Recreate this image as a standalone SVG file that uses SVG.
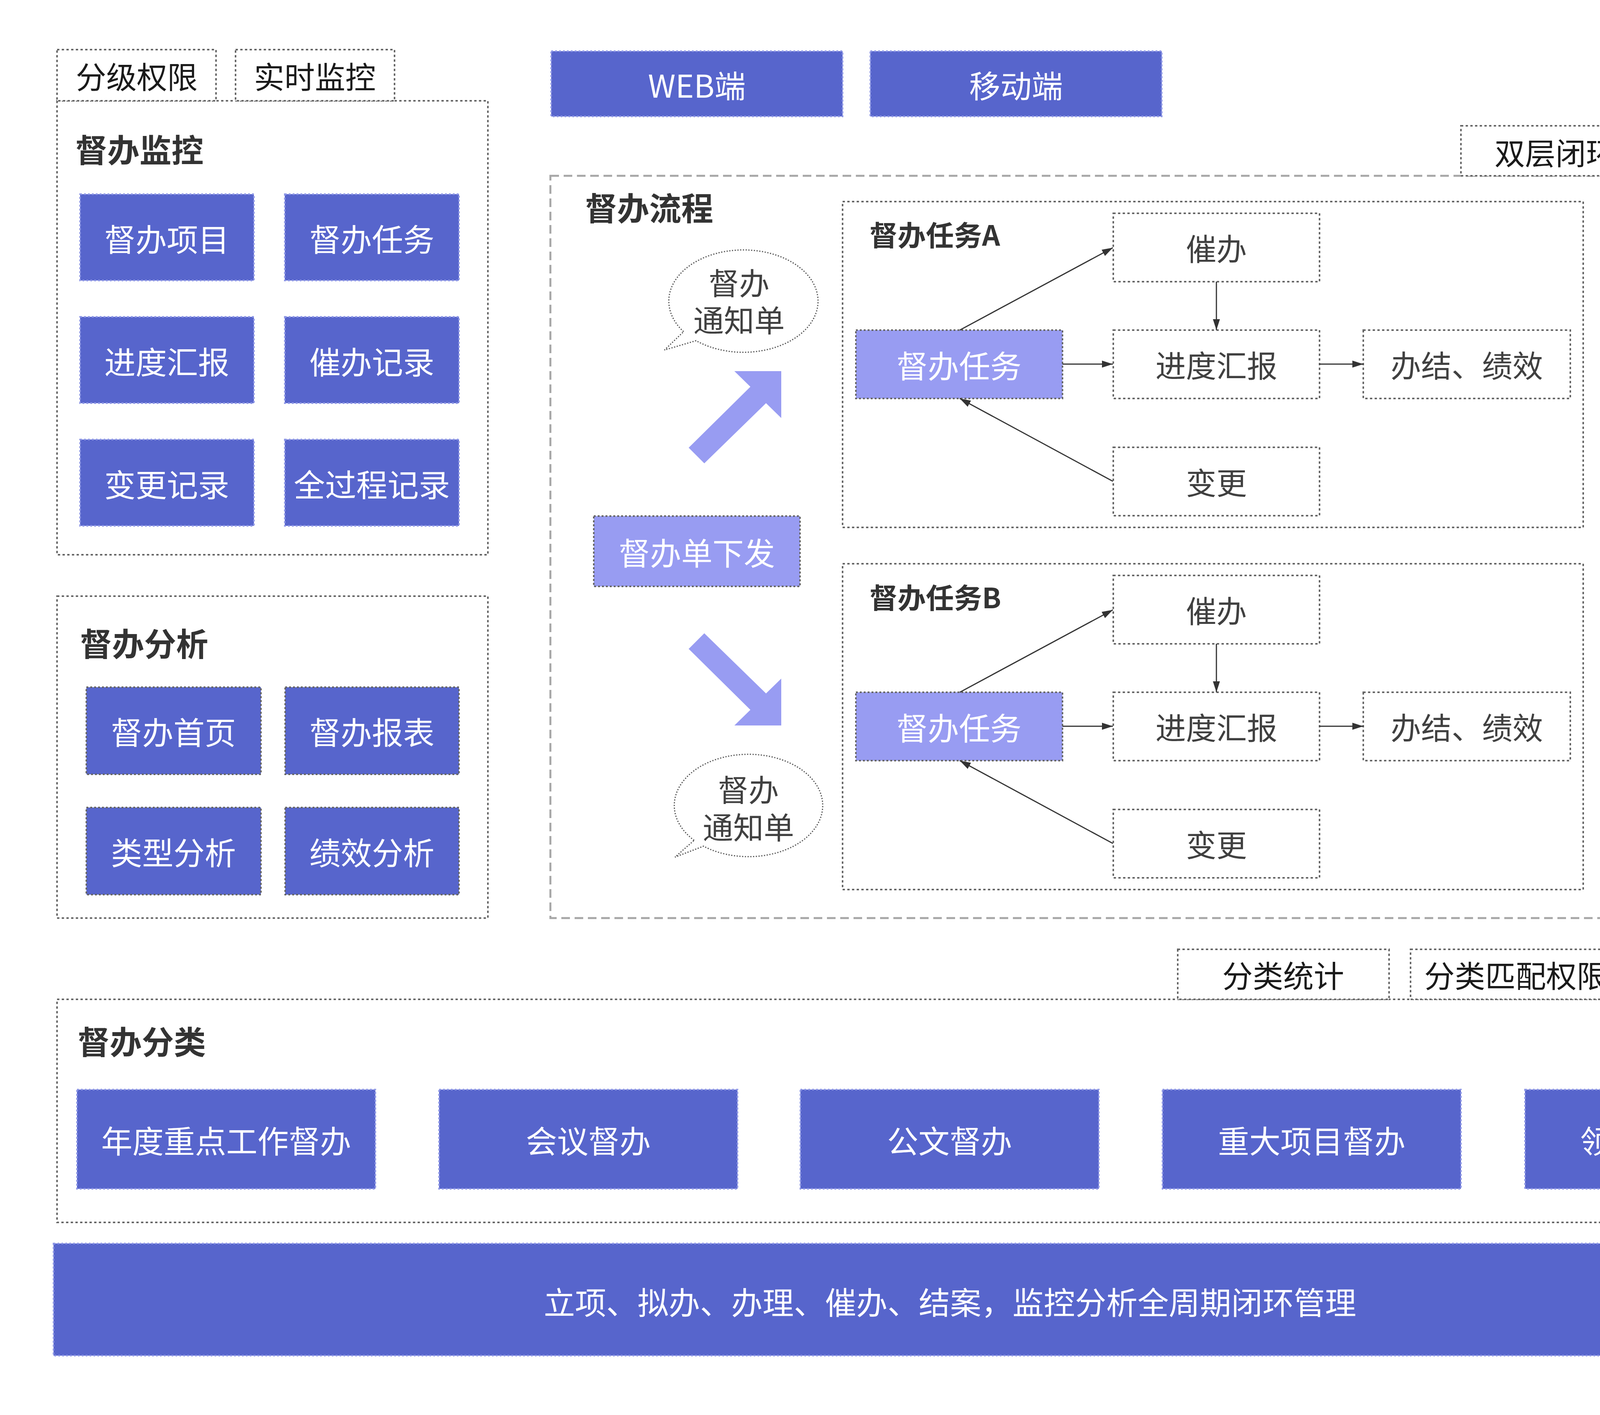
<svg xmlns="http://www.w3.org/2000/svg" width="4873" height="3622" viewBox="0 0 4873 3622">
<style>
.bg{fill:#ffffff}
.dot{fill:#ffffff;stroke:#666666;stroke-width:4;stroke-dasharray:6 6}
.pan{fill:none;stroke:#666666;stroke-width:4;stroke-dasharray:6 6}
.dk{fill:#5765cc;stroke:#8f98e6;stroke-width:4;stroke-dasharray:5 5}
.dkg{fill:#5765cc;stroke:#666666;stroke-width:4;stroke-dasharray:5 5}
.lt{fill:#989cf2;stroke:#666666;stroke-width:4;stroke-dasharray:5 5}
.flow{fill:none;stroke:#a6a6a6;stroke-width:5;stroke-dasharray:22 12}
.bub{fill:#ffffff;stroke:#555555;stroke-width:3;stroke-dasharray:3 4}
.big{fill:#989cf2}
.t{font-family:"Noto Sans CJK SC","Noto Sans",sans-serif;text-anchor:middle;dominant-baseline:central}
.w{fill:#ffffff;font-size:80px}
.k{fill:#1a1a1a;font-size:78px}
.g{fill:#404040;font-size:78px}
.h{font-family:"Noto Sans CJK SC","Noto Sans",sans-serif;font-weight:bold;fill:#333333;dominant-baseline:central}
.conn line{stroke:#333333;stroke-width:3;marker-end:url(#ah)}
</style>
<defs>
<marker id="ah" markerUnits="userSpaceOnUse" markerWidth="30" markerHeight="20" refX="28" refY="9" orient="auto">
<path d="M0,0 L28,9 L0,18 Z" fill="#333333"/>
</marker>
</defs>
<rect class="bg" x="0" y="0" width="4873" height="3622"/>

<!-- 督办监控 -->
<g id="monitor">
<rect class="pan" x="146" y="258" width="1103" height="1162"/>
<rect class="dot" x="146" y="127" width="407" height="131"/>
<text class="t k" x="350" y="193">分级权限</text>
<rect class="dot" x="603" y="127" width="407" height="131"/>
<text class="t k" x="806" y="193">实时监控</text>
<text class="h" x="193" y="379" font-size="82">督办监控</text>
</g>
<g id="m1"><rect class="dk" x="205" y="497" width="445" height="221"/><text class="t w" x="427" y="608">督办项目</text></g>
<g id="m2"><rect class="dk" x="729" y="497" width="446" height="221"/><text class="t w" x="952" y="608">督办任务</text></g>
<g id="m3"><rect class="dk" x="205" y="811" width="445" height="221"/><text class="t w" x="427" y="922">进度汇报</text></g>
<g id="m4"><rect class="dk" x="729" y="811" width="446" height="221"/><text class="t w" x="952" y="922">催办记录</text></g>
<g id="m5"><rect class="dk" x="205" y="1125" width="445" height="221"/><text class="t w" x="427" y="1236">变更记录</text></g>
<g id="m6"><rect class="dk" x="729" y="1125" width="446" height="221"/><text class="t w" x="952" y="1236">全过程记录</text></g>

<!-- 督办分析 -->
<g id="analysis">
<rect class="pan" x="146" y="1526" width="1103" height="824"/>
<text class="h" x="205" y="1643" font-size="82">督办分析</text>
</g>
<g id="a1"><rect class="dkg" x="221" y="1759" width="447" height="223"/><text class="t w" x="444" y="1870">督办首页</text></g>
<g id="a2"><rect class="dkg" x="730" y="1759" width="445" height="223"/><text class="t w" x="952" y="1870">督办报表</text></g>
<g id="a3"><rect class="dkg" x="221" y="2067" width="447" height="223"/><text class="t w" x="444" y="2178">类型分析</text></g>
<g id="a4"><rect class="dkg" x="730" y="2067" width="445" height="223"/><text class="t w" x="952" y="2178">绩效分析</text></g>

<!-- 端 -->
<g id="web"><rect class="dk" x="1411" y="131" width="746" height="167"/><text class="t w" x="1784" y="215">WEB端</text></g>
<g id="mobile"><rect class="dk" x="2228" y="131" width="746" height="167"/><text class="t w" x="2601" y="215">移动端</text></g>

<!-- 督办流程 -->
<g id="flow">
<rect class="flow" x="1409" y="450" width="3325" height="1900"/>
<rect class="dot" x="3740" y="322" width="485" height="128"/>
<text class="t k" x="3982" y="388">双层闭环</text>
<rect class="dot" x="4279" y="322" width="455" height="128"/>
<text class="t k" x="4506" y="388">流程可配置</text>
<text class="h" x="1498" y="528" font-size="82">督办流程</text>
</g>

<g id="bubble1">
<path class="bub" d="M1750,849 A191,131 0 1 1 1782,872 L1701,896 Z"/>
<text class="t g" x="1892" y="721" font-size="76">督办</text>
<text class="t g" x="1892" y="816" font-size="76">通知单</text>
</g>
<g id="bubble2">
<path class="bub" d="M1777,2151 A190,131 0 1 1 1801,2166 L1728,2194 Z"/>
<text class="t g" x="1916" y="2018" font-size="76">督办</text>
<text class="t g" x="1916" y="2114" font-size="76">通知单</text>
</g>

<g id="bigarrows">
<polygon class="big" points="2000,950 2000,1070 1961,1032 1803,1186 1763,1146 1921,990 1880,950"/>
<polygon class="big" points="2000,1857 1880,1857 1921,1817 1763,1661 1803,1621 1961,1775 2000,1737"/>
<polygon class="big" points="4420,1167 4300,1167 4341,1127 4183,971 4223,931 4381,1085 4420,1047"/>
<polygon class="big" points="4420,1638 4420,1758 4381,1720 4223,1874 4183,1834 4341,1678 4300,1638"/>
</g>

<g id="issue"><rect class="lt" x="1520" y="1321" width="528" height="180"/><text class="t w" x="1784" y="1411">督办单下发</text></g>
<g id="close"><rect class="lt" x="4112" y="1321" width="531" height="180"/><text class="t w" x="4377" y="1411">督办结案</text></g>

<!-- 任务A -->
<g id="taskA">
<rect class="pan" x="2157" y="516" width="1896" height="834"/>
<text class="h" x="2226" y="597" font-size="72">督办任务A</text>
</g>
<g id="A_task"><rect class="lt" x="2191" y="845" width="529" height="175"/><text class="t w" x="2455" y="932">督办任务</text></g>
<g id="A_urge"><rect class="dot" x="2850" y="546" width="528" height="175"/><text class="t g" x="3114" y="633">催办</text></g>
<g id="A_prog"><rect class="dot" x="2850" y="845" width="528" height="175"/><text class="t g" x="3114" y="932">进度汇报</text></g>
<g id="A_done"><rect class="dot" x="3490" y="845" width="530" height="175"/><text class="t g" x="3755" y="932">办结、绩效</text></g>
<g id="A_chg"><rect class="dot" x="2850" y="1145" width="528" height="175"/><text class="t g" x="3114" y="1232">变更</text></g>

<!-- 任务B -->
<g id="taskB">
<rect class="pan" x="2157" y="1443" width="1896" height="834"/>
<text class="h" x="2226" y="1525" font-size="72">督办任务B</text>
</g>
<g id="B_task"><rect class="lt" x="2191" y="1772" width="529" height="175"/><text class="t w" x="2455" y="1859">督办任务</text></g>
<g id="B_urge"><rect class="dot" x="2850" y="1473" width="528" height="175"/><text class="t g" x="3114" y="1560">催办</text></g>
<g id="B_prog"><rect class="dot" x="2850" y="1772" width="528" height="175"/><text class="t g" x="3114" y="1859">进度汇报</text></g>
<g id="B_done"><rect class="dot" x="3490" y="1772" width="530" height="175"/><text class="t g" x="3755" y="1859">办结、绩效</text></g>
<g id="B_chg"><rect class="dot" x="2850" y="2072" width="528" height="175"/><text class="t g" x="3114" y="2159">变更</text></g>

<g id="connectors" class="conn">
<line x1="2457" y1="845" x2="2849" y2="634"/>
<line x1="2720" y1="932" x2="2849" y2="932"/>
<line x1="3114" y1="721" x2="3114" y2="845"/>
<line x1="3378" y1="932" x2="3490" y2="932"/>
<line x1="2849" y1="1232" x2="2457" y2="1020"/>
<line x1="2457" y1="1772" x2="2849" y2="1561"/>
<line x1="2720" y1="1859" x2="2849" y2="1859"/>
<line x1="3114" y1="1648" x2="3114" y2="1772"/>
<line x1="3378" y1="1859" x2="3490" y2="1859"/>
<line x1="2849" y1="2159" x2="2457" y2="1947"/>
</g>

<!-- 督办分类 -->
<g id="category">
<rect class="pan" x="146" y="2558" width="4589" height="571"/>
<rect class="dot" x="3015" y="2430" width="541" height="128"/>
<text class="t k" x="3285" y="2494">分类统计</text>
<rect class="dot" x="3611" y="2430" width="539" height="128"/>
<text class="t k" x="3880" y="2494">分类匹配权限</text>
<rect class="dot" x="4194" y="2430" width="541" height="128"/>
<text class="t k" x="4464" y="2494">一键生成督办</text>
<text class="h" x="199" y="2662" font-size="82">督办分类</text>
</g>
<g id="c1"><rect class="dk" x="197" y="2789" width="764" height="254"/><text class="t w" x="579" y="2916">年度重点工作督办</text></g>
<g id="c2"><rect class="dk" x="1124" y="2789" width="764" height="254"/><text class="t w" x="1506" y="2916">会议督办</text></g>
<g id="c3"><rect class="dk" x="2049" y="2789" width="764" height="254"/><text class="t w" x="2431" y="2916">公文督办</text></g>
<g id="c4"><rect class="dk" x="2976" y="2789" width="764" height="254"/><text class="t w" x="3358" y="2916">重大项目督办</text></g>
<g id="c5"><rect class="dk" x="3904" y="2789" width="763" height="254"/><text class="t w" x="4285" y="2916">领导批示督办</text></g>

<g id="bottom"><rect class="dk" x="137" y="3183" width="4590" height="287"/><text class="t w" x="2432" y="3329" font-size="90">立项、拟办、办理、催办、结案，监控分析全周期闭环管理</text></g>
</svg>
